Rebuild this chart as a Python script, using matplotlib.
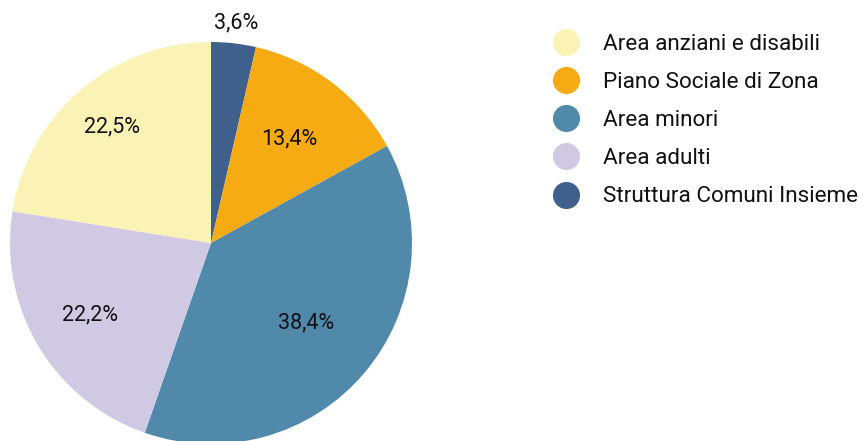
import matplotlib
matplotlib.use("Agg")
import matplotlib.pyplot as plt
import numpy as np
from matplotlib.lines import Line2D

plt.rcParams['font.family'] = ['Roboto', 'DejaVu Sans']

# legend order
categories = ["Area anziani e disabili", "Piano Sociale di Zona", "Area minori",
              "Area adulti", "Struttura Comuni Insieme"]
shares = [22.5, 13.4, 38.4, 22.2, 3.6]
colors = ["#FBF2B5", "#F7AB13", "#5189AB", "#D0C9E4", "#3F608C"]

# order of the slices going clockwise from 12 o'clock
pie_order = [4, 1, 2, 3, 0]
label_dist = [1.1, 0.65, 0.62, 0.70, 0.76]

W, H = 863, 441
fig = plt.figure(figsize=(W / 100, H / 100), dpi=100)
cx, cy, r = 211, 243, 201
ax = fig.add_axes([(cx - r) / W, (H - cy - r) / H, 2 * r / W, 2 * r / H])

vals = [shares[i] for i in pie_order]
cols = [colors[i] for i in pie_order]
wedges, _ = ax.pie(vals, colors=cols, startangle=90, counterclock=False,
                   radius=1, wedgeprops=dict(linewidth=0))
for w, v, d in zip(wedges, vals, label_dist):
    ang = np.deg2rad((w.theta1 + w.theta2) / 2)
    ax.text(d * np.cos(ang), d * np.sin(ang), f"{v:.1f}%".replace(".", ","),
            ha="center", va="center", fontsize=15.5, color="#111111")
ax.set_xlim(-1, 1)
ax.set_ylim(-1, 1)
ax.set_aspect("equal")
ax.axis("off")

handles = [Line2D([], [], marker="o", linestyle="none", markersize=19.5,
                  markerfacecolor=c, markeredgewidth=0) for c in colors]
fig.legend(handles, categories, loc="upper left",
           bbox_to_anchor=(548 / W, 1 - 34 / H), frameon=False,
           fontsize=16.2, labelspacing=0.76, handletextpad=0.85,
           handlelength=1.6, borderaxespad=0, borderpad=0,
           labelcolor="#111111")

fig.savefig("out.png", dpi=100)
